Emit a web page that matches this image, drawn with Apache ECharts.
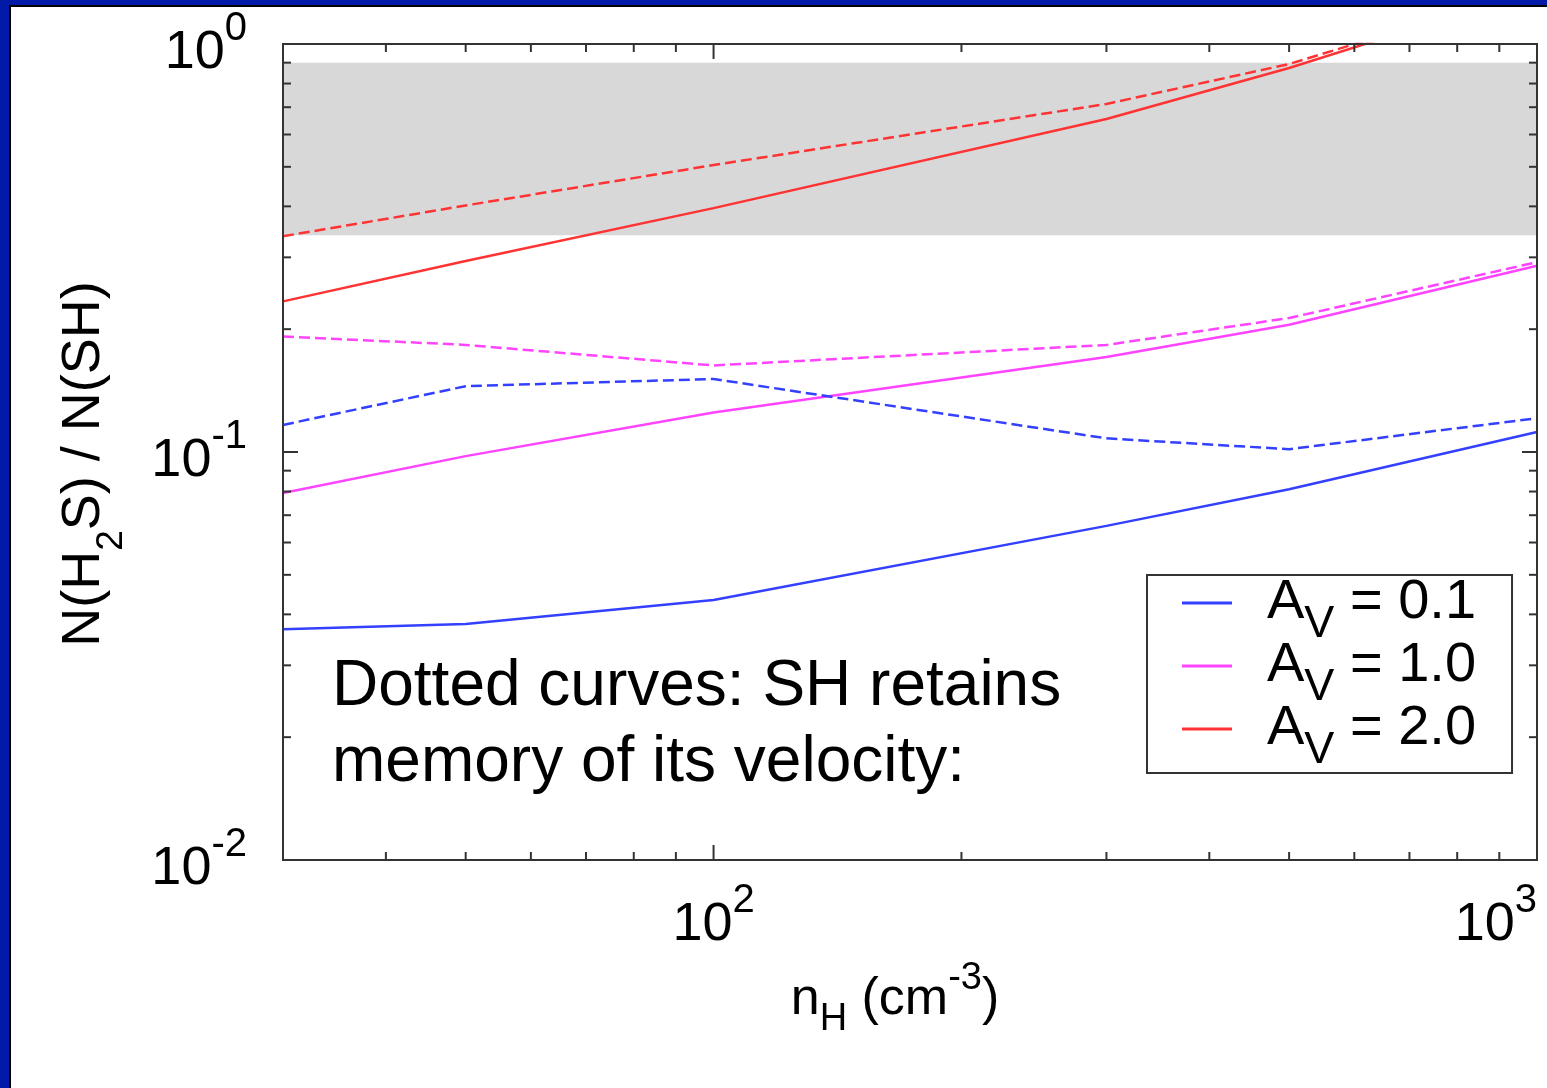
<!DOCTYPE html>
<html>
<head>
<meta charset="utf-8">
<title>N(H2S) / N(SH) versus density</title>
<script src="https://cdn.jsdelivr.net/npm/echarts@6/dist/echarts.min.js"></script>
<style>
  html, body { margin: 0; padding: 0; background: #fff; }
  #chart { width: 1547px; height: 1088px; position: relative; }
  .frame { position: absolute; pointer-events: none; }
</style>
</head>
<body>
<div id="chart"></div>
<div class="frame" style="left:0;top:0;width:1547px;height:5px;background:#0319a8;"></div>
<div class="frame" style="left:9px;top:5px;width:1538px;height:2px;background:#000;"></div>
<div class="frame" style="left:0;top:0;width:9px;height:1088px;background:#0319a8;"></div>
<div class="frame" style="left:9px;top:5px;width:2px;height:1083px;background:#000;"></div>
<script>
// Density grid (cm^-3) and column-density ratios N(H2S)/N(SH)
const nH = [30, 50, 100, 300, 500, 1000];

// solid curves
const av01 = [0.0368, 0.0379, 0.0434, 0.0659, 0.081, 0.112];
const av10 = [0.0793, 0.0977, 0.125, 0.171, 0.205, 0.286];
const av20 = [0.234, 0.294, 0.396, 0.655, 0.873, 1.36];

// dotted curves: SH keeps memory of its velocity
const av01Memory = [0.1165, 0.145, 0.151, 0.108, 0.1016, 0.121];
const av10Memory = [0.192, 0.183, 0.163, 0.183, 0.213, 0.292];
const av20Memory = [0.338, 0.402, 0.505, 0.713, 0.893, 1.37];

// observed range (shaded band)
const observedBand = [0.34, 0.9];

const seriesNames = ['A_V = 0.1', 'A_V = 1.0', 'A_V = 2.0'];
const legendLabels = ['0.1', '1.0', '2.0'];

// axis extents and tick values
const X_MIN = 30, X_MAX = 1000;
const Y_MIN = 0.01, Y_MAX = 1;
const xMajorTicks = [100, 1000];
const xMinorTicks = [40, 50, 60, 70, 80, 90, 200, 300, 400, 500, 600, 700, 800, 900];
const yMajorTicks = [0.01, 0.1, 1];
const yMinorTicks = [0.02, 0.03, 0.04, 0.05, 0.06, 0.07, 0.08, 0.09,
                     0.2, 0.3, 0.4, 0.5, 0.6, 0.7, 0.8, 0.9];

const FONT = '"Liberation Sans", Arial, Helvetica, sans-serif';
const BLUE = '#3340ff', MAGENTA = '#ff44ff', RED = '#ff3333';
const AXIS_COLOR = '#333';

function pairs(ys) { return nH.map((x, i) => [x, ys[i]]); }

function powerLabel(value) {
  const e = Math.log10(value);
  if (Math.abs(e - Math.round(e)) > 1e-6) return '';
  return '{b|10}{s|' + Math.round(e) + '}';
}

const powerRich = {
  b: { fontSize: 54, lineHeight: 54, fontFamily: FONT, color: '#000', verticalAlign: 'top', padding: [17, 0, 0, 0] },
  s: { fontSize: 40, lineHeight: 40, fontFamily: FONT, color: '#000', verticalAlign: 'top' }
};

// tick marks on all four sides, pointing inward
const MAJOR_LEN = 15, MINOR_LEN = 8;
const tickData = []
  .concat(xMajorTicks.map(v => [v, Y_MIN, 0, MAJOR_LEN]))
  .concat(xMinorTicks.map(v => [v, Y_MIN, 0, MINOR_LEN]))
  .concat(yMajorTicks.map(v => [X_MIN, v, 1, MAJOR_LEN]))
  .concat(yMinorTicks.map(v => [X_MIN, v, 1, MINOR_LEN]));

function renderTick(params, api) {
  const len = api.value(3);
  const style = { stroke: AXIS_COLOR, lineWidth: 2 };
  if (api.value(2) === 0) {
    const v = api.value(0);
    const b = api.coord([v, Y_MIN]);
    const t = api.coord([v, Y_MAX]);
    return { type: 'group', children: [
      { type: 'line', shape: { x1: b[0], y1: b[1], x2: b[0], y2: b[1] - len }, style: style },
      { type: 'line', shape: { x1: t[0], y1: t[1], x2: t[0], y2: t[1] + len }, style: style }
    ]};
  }
  const v = api.value(1);
  const l = api.coord([X_MIN, v]);
  const r = api.coord([X_MAX, v]);
  return { type: 'group', children: [
    { type: 'line', shape: { x1: l[0], y1: l[1], x2: l[0] + len, y2: l[1] }, style: style },
    { type: 'line', shape: { x1: r[0], y1: r[1], x2: r[0] - len, y2: r[1] }, style: style }
  ]};
}

function lineSeries(name, ys, color, dashed, extra) {
  return Object.assign({
    name: name,
    type: 'line',
    data: pairs(ys),
    showSymbol: false,
    symbol: 'none',
    z: 2,
    lineStyle: { color: color, width: 2.5, type: dashed ? [11, 5] : 'solid' },
    itemStyle: { color: color },
    clip: true,
    silent: true
  }, extra || {});
}

const chart = echarts.init(document.getElementById('chart'), null, { renderer: 'canvas' });

chart.setOption({
  animation: false,
  backgroundColor: 'transparent',
  grid: {
    left: 283, right: 10, top: 44, bottom: 228,
    show: true, z: 3,
    borderColor: AXIS_COLOR, borderWidth: 2,
    backgroundColor: 'transparent'
  },
  xAxis: {
    type: 'log', logBase: 10, min: X_MIN, max: X_MAX,
    axisLine: { show: false },
    axisTick: { show: false },
    splitLine: { show: false },
    axisLabel: {
      margin: 21, formatter: powerLabel, rich: powerRich,
      showMinLabel: true, showMaxLabel: true, alignMaxLabel: 'right'
    },
    name: '{n|n}{sub|H}{n| (cm}{sup|-3}{n|)}',
    nameLocation: 'middle',
    nameGap: 100,
    nameTextStyle: {
      padding: [0, 30, 0, 0],
      rich: {
        n: { fontSize: 52, lineHeight: 52, fontFamily: FONT, color: '#000', verticalAlign: 'top', padding: [14, 0, 0, 0] },
        sup: { fontSize: 38, lineHeight: 38, fontFamily: FONT, color: '#000', verticalAlign: 'top' },
        sub: { fontSize: 38, lineHeight: 38, fontFamily: FONT, color: '#000', verticalAlign: 'top', padding: [41, 0, 0, 0] }
      }
    }
  },
  yAxis: {
    type: 'log', logBase: 10, min: Y_MIN, max: Y_MAX, interval: 1,
    axisLine: { show: false },
    axisTick: { show: false },
    splitLine: { show: false },
    axisLabel: { margin: 36, formatter: powerLabel, rich: powerRich, padding: [0, 0, 16, 0] },
    name: '{n|N(H}{sub|2}{n|S) / N(SH)}',
    nameLocation: 'middle',
    nameGap: 172,
    nameTextStyle: {
      padding: [0, 24, 0, 0],
      rich: {
        n: { fontSize: 54, lineHeight: 54, fontFamily: FONT, color: '#000', verticalAlign: 'top' },
        sub: { fontSize: 37, lineHeight: 37, fontFamily: FONT, color: '#000', verticalAlign: 'top', padding: [36, 0, 0, 0] }
      }
    }
  },
  legend: {
    data: seriesNames,
    orient: 'vertical',
    left: 1147, top: 575,
    padding: [0, 36, 0, 35],
    itemGap: -9,
    itemWidth: 50, itemHeight: 3,
    icon: 'rect',
    selectedMode: false,
    backgroundColor: '#fff',
    borderColor: AXIS_COLOR, borderWidth: 2,
    formatter: function (name) {
      const i = seriesNames.indexOf(name);
      return '{sp|}{a|A}{v|V}{a| = ' + legendLabels[i] + '}';
    },
    textStyle: {
      rich: {
        sp: { width: 30 },
        a: { fontSize: 56, lineHeight: 56, fontFamily: FONT, color: '#000', verticalAlign: 'top' },
        v: { fontSize: 45, lineHeight: 45, fontFamily: FONT, color: '#000', verticalAlign: 'top', padding: [27, 0, 0, 0] }
      }
    }
  },
  graphic: [{
    type: 'text',
    left: 332, top: 649,
    z: 10,
    style: {
      text: 'Dotted curves: SH retains\nmemory of its velocity:',
      fontSize: 64, lineHeight: 76, fontFamily: FONT, fill: '#000'
    }
  }],
  series: [
    lineSeries(seriesNames[0], av01, BLUE, false, {
      markArea: {
        silent: true,
        itemStyle: { color: '#d8d8d8', opacity: 1 },
        data: [[{ yAxis: observedBand[0] }, { yAxis: observedBand[1] }]]
      }
    }),
    lineSeries(seriesNames[1], av10, MAGENTA, false),
    lineSeries(seriesNames[2], av20, RED, false),
    lineSeries('A_V = 0.1 (memory)', av01Memory, BLUE, true),
    lineSeries('A_V = 1.0 (memory)', av10Memory, MAGENTA, true),
    lineSeries('A_V = 2.0 (memory)', av20Memory, RED, true),
    {
      type: 'custom',
      name: 'ticks',
      data: tickData,
      encode: { x: 0, y: 1 },
      renderItem: renderTick,
      silent: true,
      clip: false,
      z: 5
    }
  ]
});
</script>
</body>
</html>
